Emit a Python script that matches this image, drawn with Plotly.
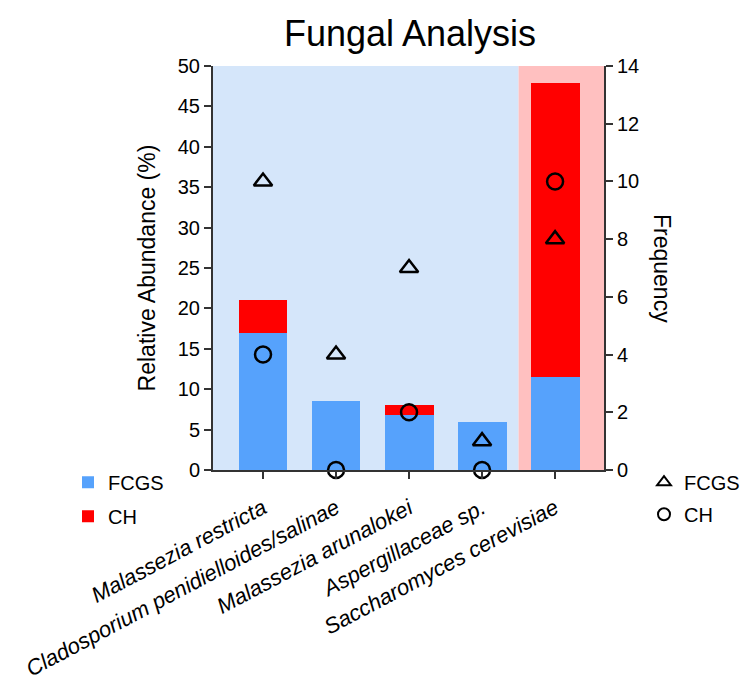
import plotly.graph_objects as go

categories = ["Malassezia restricta", "Cladosporium penidielloides/salinae",
              "Malassezia arunalokei", "Aspergillaceae sp.", "Saccharomyces cerevisiae"]
fcgs_abund = [16.9, 8.5, 6.8, 6.0, 11.5]
ch_abund = [4.1, 0.0, 1.3, 0.0, 36.4]
fcgs_freq = [10, 4, 7, 1, 8]
ch_freq = [4, 0, 2, 0, 10]

BLUE = "#56A2FC"
RED = "#FF0000"
FONT = "Arial, Liberation Sans, sans-serif"

W, H = 743, 673  # page has 8px body margin
L, T, R, B = 205, 58, 596, 462  # plot area in figure px

xs = list(range(len(categories)))
ticktext = [f"<i>{c}</i>" for c in categories]

fig = go.Figure()
fig.add_trace(go.Bar(x=xs, y=fcgs_abund, name="FCGS", marker_color=BLUE,
                     marker_line_width=0, width=0.67, legend="legend", legendgroup="a"))
fig.add_trace(go.Bar(x=xs, y=ch_abund, name="CH", marker_color=RED,
                     marker_line_width=0, width=0.67, legend="legend", legendgroup="b"))
fig.add_trace(go.Scatter(x=xs, y=fcgs_freq, name="FCGS", mode="markers", yaxis="y2",
                         marker=dict(symbol="triangle-up-open", size=16, color="black",
                                     line=dict(width=2.5, color="black")),
                         cliponaxis=False, legend="legend2", legendgroup="c"))
fig.add_trace(go.Scatter(x=xs, y=ch_freq, name="CH", mode="markers", yaxis="y2",
                         marker=dict(symbol="circle-open", size=16, color="black",
                                     line=dict(width=2.5, color="black")),
                         cliponaxis=False, legend="legend2", legendgroup="d"))

xmin, xmax = -0.685, 4.67
fig.add_shape(type="rect", xref="x", yref="paper", x0=xmin, x1=3.5, y0=0, y1=1,
              fillcolor="#D5E6FA", line_width=0, layer="below")
fig.add_shape(type="rect", xref="x", yref="paper", x0=3.5, x1=xmax, y0=0, y1=1,
              fillcolor="#FFC0C0", line_width=0, layer="below")

axis_common = dict(showline=True, linecolor="#333", linewidth=2, ticks="outside",
                   ticklen=7, tickwidth=1.5, tickcolor="#333", showgrid=False,
                   zeroline=False)
pw, ph = R - L, B - T

fig.update_layout(
    width=W, height=H,
    barmode="stack",
    paper_bgcolor="white", plot_bgcolor="white",
    font=dict(family=FONT, color="black", size=20),
    margin=dict(l=L, r=W - R, t=T, b=H - B, autoexpand=False),
    title=dict(text="Fungal Analysis", x=402 / W, xanchor="center",
               y=1 - 25 / H, yanchor="middle", font=dict(size=36, family=FONT)),
    xaxis=dict(range=[xmin, xmax], tickmode="array", tickvals=xs, ticktext=ticktext,
               tickangle=-28, tickfont=dict(size=22), ticklabelstandoff=8, **axis_common),
    yaxis=dict(range=[0, 50], tickvals=list(range(0, 51, 5)), tickfont=dict(size=20),
               title=dict(text="Relative Abundance (%)", font=dict(size=23), standoff=16),
               **axis_common),
    yaxis2=dict(range=[0, 14], tickvals=list(range(0, 15, 2)), overlaying="y", side="right",
                tickfont=dict(size=20), **axis_common),
    legend=dict(x=(60 - L) / pw, xanchor="left", y=0.018, yanchor="top",
                bgcolor="rgba(0,0,0,0)", font=dict(size=20), tracegroupgap=5,
                traceorder="grouped", itemsizing="constant"),
    legend2=dict(x=(636 - L) / pw, xanchor="left", y=0.018, yanchor="top",
                 bgcolor="rgba(0,0,0,0)", font=dict(size=20), tracegroupgap=3,
                 traceorder="grouped", itemsizing="constant"),
    annotations=[dict(text="Frequency", textangle=90, xref="paper", yref="paper",
                      x=(654 - L) / pw, y=0.5, xanchor="center", yanchor="middle",
                      showarrow=False, font=dict(size=23))],
)

fig.write_html("out.html")
